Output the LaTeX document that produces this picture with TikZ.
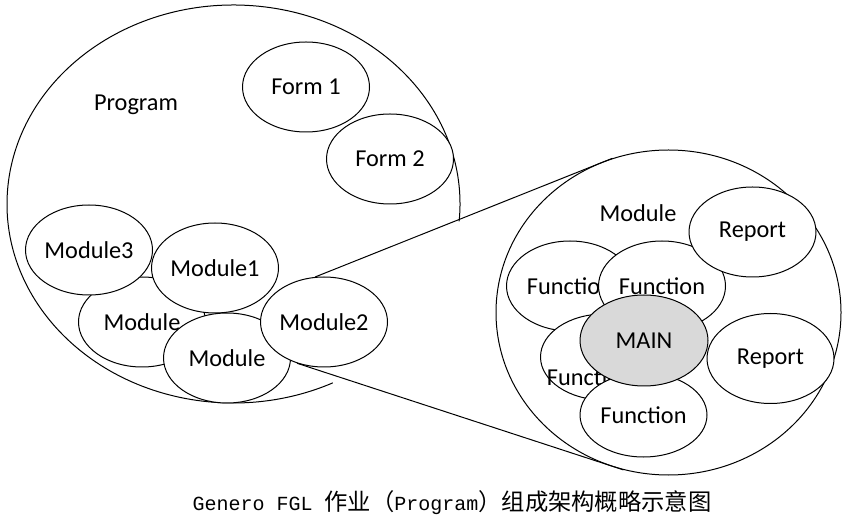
\documentclass[tikz,border=0pt]{standalone}
\usepackage{fontspec}
\setmainfont{Carlito}
\newfontfamily\cjk{Noto Sans CJK SC}
\newfontfamily\capmono{Liberation Mono}
\usepackage{tikz}
\usetikzlibrary{shapes.geometric,positioning}
\definecolor{maingray}{RGB}{217,217,217}
\newcommand{\ovalfont}{\fontsize{24.3}{29}\selectfont}
\newcommand{\capfont}{\fontsize{20}{24}\selectfont}
\newcommand{\capcjkfont}{\fontsize{23.3}{28}\selectfont}
\tikzset{%
	oval/.style     = {draw, ellipse, fill=white, line width=1pt, inner sep=0pt, minimum width=127pt, minimum height=90pt, text centered, font=\ovalfont},
	mainoval/.style = {oval, fill=maingray},
	bigoval/.style  = {draw, ellipse, line width=1pt, inner sep=0pt, minimum width=345pt, minimum height=325pt},
	plain/.style    = {inner sep=0pt, font=\ovalfont},
	zoomline/.style = {line width=1pt},
}

\begin{document}
\begin{tikzpicture}[x=1pt,y=1pt]
	\useasboundingbox (0,0) rectangle (842,519);
	\draw[zoomline] (233.5,315) ++(-5:226.5 and 199) arc[start angle=-5, end angle=296, x radius=226.5pt, y radius=199pt];
	\node[plain] (prog) at (136,414) {Program};
	\node[oval] (form1) at (306,432) {Form 1};
	\node[oval] (form2) at (390,360) {Form 2};
	\node[oval] (modl) at (142,197) {Module};
	\node[oval] (mod3) at (89,269) {Module3};
	\node[oval] (mod1) at (215,251) {Module1};
	\node[oval] (modb) at (227,161) {Module};
	\node[oval] (mod2) at (324,197) {Module2};
	
	\node[bigoval] (modbox) at (668.5,206.5) {};
	\draw[zoomline] (mod2.101) -- (modbox.110);
	\draw[zoomline] (mod2.237) -- (modbox.254);
	\node[plain] (modlabel) at (638,306) {Module};
	\node[oval] (fnl) at (570,233) {Function};
	\node[oval] (fnm) at (662,233) {Function};
	\node[oval] (rep1) at (752.5,287) {Report};
	\node[oval, minimum height=86pt, label={[plain,xshift=-14pt,yshift=-20pt]center:Function}] (fnlb) at (604,162) {};
	\node[oval, minimum height=84pt] (fnb) at (643.5,104) {Function};
	\node[mainoval, minimum width=128pt, minimum height=91pt] (main) at (644,178.5) {MAIN};
	\node[oval] (rep2) at (770.5,160.5) {Report};
	
	\node[inner sep=0pt] (caption) at (452,16) {{\capmono\capfont Genero FGL }{\cjk\capcjkfont 作业（}{\capmono\capfont Program}{\cjk\capcjkfont ）组成架构概略示意图}};
\end{tikzpicture}
\end{document}
